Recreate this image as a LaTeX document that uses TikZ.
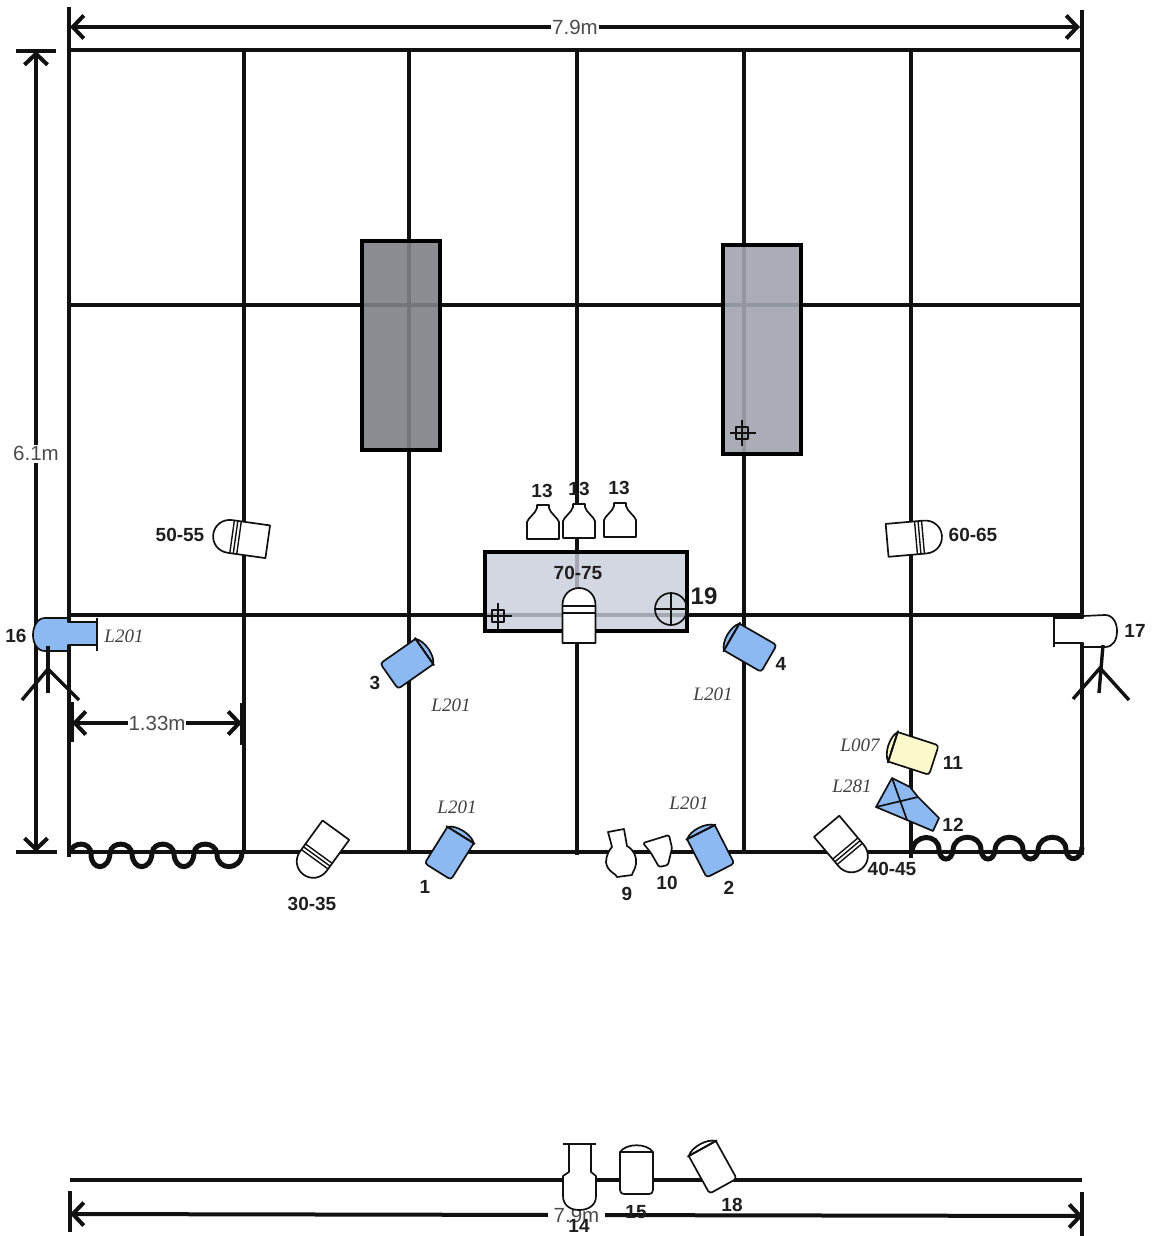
\documentclass[tikz,border=0pt]{standalone}
\usepackage{fontspec}
\setmainfont{Liberation Sans}
\newfontfamily\lblserif{Liberation Serif}
\usetikzlibrary{arrows.meta}
\definecolor{lampblue}{HTML}{8DB9F3}
\definecolor{lampyellow}{HTML}{FBF9CB}
\definecolor{greyA}{HTML}{808187}
\definecolor{greyB}{HTML}{A1A5AF}
\definecolor{greyC}{HTML}{C8CDDA}
\definecolor{inkdark}{HTML}{111111}
\tikzset{
  gridline/.style={line width=4pt,draw=inkdark},
  tickline/.style={line width=4pt,draw=inkdark},
  dimline/.style={line width=4pt,draw=inkdark,{Straight Barb[length=11pt,width=23pt]}-{Straight Barb[length=11pt,width=23pt]}},
  dimlabel/.style={fill=white,inner sep=2pt,font=\fontsize{20.5}{20.5}\selectfont,text=black!70},
  lampline/.style={line width=1.7pt,draw=inkdark,line join=round},
  numlabel/.style={font=\fontsize{19}{19}\selectfont\bfseries,text=black!88,inner sep=0pt},
  gellabel/.style={font=\fontsize{19}{19}\selectfont\lblserif\itshape,text=black!75,inner sep=0pt},
  standline/.style={line width=3.4pt,draw=inkdark},
  curtain/.style={line width=5pt,draw=inkdark},
  setblock/.style={line width=4pt,draw=black,fill opacity=.9,draw opacity=1},
}
% Fresnel-type lamp: centre x, centre y, rotation, fill
\newcommand{\fresnellamp}[4]{%
  \begin{scope}[shift={(#1,#2)},rotate=#3]
    \draw[lampline,fill=#4] (-15.5,-20) .. controls (-9,-26.5) and (9,-26.5) .. (15.5,-20) -- cycle;
    \draw[lampline,fill=#4] (-15.5,-20) -- (-15.5,20) .. controls (-15.5,22) and (-14,23) .. (-12,23) -- (12,23) .. controls (14,23) and (15.5,22) .. (15.5,20) -- (15.5,-20) -- cycle;
    \draw[lampline] (-17,-20) -- (17,-20);
  \end{scope}}
% Ellipsoidal-type lamp: centre x, centre y, rotation, stripes
\newcommand{\profilelamp}[4]{%
  \begin{scope}[shift={(#1,#2)},rotate=#3]
    \draw[lampline,fill=white] (-16.5,27) -- (-16.5,-11) .. controls (-16.5,-21) and (-9,-28) .. (0,-28) .. controls (9,-28) and (16.5,-21) .. (16.5,-11) -- (16.5,27) -- cycle;
    \foreach \s in {#4} {\draw[lampline,line width=1.4pt] (-16.5,\s) -- (16.5,\s);}
  \end{scope}}
% Small cyc unit
\newcommand{\cycunit}[2]{%
  \begin{scope}[shift={(#1,#2)}]
    \draw[lampline,fill=white] (-16,17) -- (16,17) -- (16,0) .. controls (15,-4) and (7,-9) .. (6,-14) -- (6,-17) -- (-6,-17) -- (-6,-14) .. controls (-7,-9) and (-15,-4) .. (-16,0) -- cycle;
  \end{scope}}
\newcommand{\crosshair}[2]{%
  \begin{scope}[shift={(#1,#2)}]
    \draw[lampline,line width=1.5pt] (-6,-6) rectangle (6,6);
    \draw[lampline,line width=1.5pt] (-12,0) -- (14,0) (0,-13) -- (0,13);
  \end{scope}}
\begin{document}
\begin{tikzpicture}[x=1pt,y=-1pt]
\useasboundingbox (0,0) rectangle (1153,1236);
\fill[white] (0,0) rectangle (1153,1236);

% grid
\draw[gridline] (70,50) -- (1082,50);
\draw[gridline] (70,305) -- (1082,305);
\draw[gridline] (70,615) -- (1082,615);
\draw[gridline] (70,852) -- (1082,852);
\draw[gridline] (244,50) -- (244,852);
\draw[gridline] (409,50) -- (409,852);
\draw[gridline] (577,50) -- (577,855);
\draw[gridline] (744,50) -- (744,852);
\draw[gridline] (911,50) -- (911,858);
\draw[gridline] (69,7) -- (69,857);
\draw[gridline] (1082,10) -- (1082,855);

% bottom bar
\draw[gridline] (70,1180) -- (1082,1180);

% dimensions
\coordinate (topL) at (70,27);
\coordinate (topR) at (1080,27);
\coordinate (leftT) at (36,51);
\coordinate (leftB) at (36,852);
\coordinate (spanL) at (72,723);
\coordinate (spanR) at (242,723);
\coordinate (botL) at (70,1214);
\coordinate (botR) at (1083,1216);
\draw[dimline] (topL) -- node[dimlabel,inner sep=1pt] (dimtop) {7.9m} (topR);
\draw[dimline] (leftT) -- node[dimlabel,pos=.503] (dimleft) {6.1m} (leftB);
\draw[dimline] (spanL) -- node[dimlabel,inner sep=1pt] (dimspan) {1.33m} (spanR);
\draw[dimline] (botL) -- node[dimlabel,inner sep=6pt] (dimbot) {7.9m} (botR);
\draw[tickline] (16,51) -- (56,51);
\draw[tickline] (16,852) -- (57,852);
\draw[tickline] (72,702) -- (72,742);
\draw[tickline] (242,703) -- (242,745);
\draw[tickline] (70,1191) -- (70,1232);
\draw[tickline] (1082,1192) -- (1082,1236);

% curtains
\draw[curtain] (70,853) .. controls (72,841) and (91,841) .. (91,854)
  .. controls (91,871) and (109,871) .. (110,853)
  .. controls (111,841) and (131,841) .. (132,854)
  .. controls (133,871) and (151,871) .. (152,853)
  .. controls (153,841) and (173,841) .. (174,854)
  .. controls (175,871) and (193,871) .. (194,853)
  .. controls (195,841) and (216,841) .. (217,854)
  .. controls (217,871) and (241,871) .. (242,853);
\draw[curtain] (912,852) .. controls (913,833) and (939,833) .. (939,850)
  .. controls (940,862) and (952,862) .. (953,850)
  .. controls (954,833) and (981,833) .. (981,850)
  .. controls (982,862) and (994,862) .. (995,850)
  .. controls (996,833) and (1023,833) .. (1023,850)
  .. controls (1024,862) and (1037,862) .. (1038,850)
  .. controls (1039,833) and (1066,833) .. (1066,850)
  .. controls (1067,862) and (1081,862) .. (1082,847);

% set blocks
\draw[setblock,fill=greyA] (362,241) rectangle (440,450);
\draw[setblock,fill=greyB] (723,245) rectangle (801,454);
\draw[setblock,fill=greyC,fill opacity=.8] (485,552) rectangle (687,631);
\crosshair{742}{433}
\crosshair{498}{616}
\draw[lampline] (671,609) circle (16);
\draw[lampline] (655,609) -- (687,609) (671,593) -- (671,625);

% cyc units
\cycunit{543}{522}
\cycunit{579}{521}
\cycunit{620}{520}

% profile lamps
\profilelamp{241}{538}{82}{-9,-5.5,-2}
\profilelamp{914}{538}{-85}{-9,-5.5,-2}
\profilelamp{579}{616}{0}{-10,-3}
\profilelamp{320}{852}{144}{-9,-5.5,-2}
\profilelamp{844}{847}{220}{-9,-5.5,-2}

% fresnels
\fresnellamp{450}{852}{-32}{lampblue}
\fresnellamp{710}{850}{27}{lampblue}
\fresnellamp{408}{663}{-55}{lampblue}
\fresnellamp{749}{647}{60}{lampblue}
\fresnellamp{912}{753}{72}{lampyellow}
\fresnellamp{712}{1166}{29}{white}

% barn-door lamp 12
\draw[lampline,fill=lampblue] (892,778) -- (910,787) -- (918,797) -- (939,818) -- (933,831) -- (907,820) -- (876,807) -- cycle;
\draw[lampline] (892,778) -- (907,820) (876,807) -- (918,797);

% lamps 9 and 10
\draw[lampline,fill=white] (608,832) -- (624,829) -- (627,846) .. controls (634,850) and (637,857) .. (636,864) .. controls (635,870) and (632,873) .. (632,875) -- (617,877) .. controls (617,874) and (607,872) .. (606,862) .. controls (606,855) and (610,849) .. (612,847) -- cycle;
\draw[lampline,fill=white,rounded corners=1.5pt] (643,843) -- (669,835) -- (672,848) -- (668,865) -- (659,867) -- (651,853) -- cycle;

% followspots 16 and 17
\draw[lampline,fill=lampblue] (68,618) -- (45,618) .. controls (37,618) and (33,627) .. (33,635) .. controls (33,643) and (37,651) .. (45,651) -- (68,651) -- (68,645) -- (97,645) -- (97,622) -- (68,622) -- cycle;
\draw[lampline] (97,618) -- (97,651);
\draw[standline] (48,646) -- (48,693);
\draw[standline] (22,700) -- (48,669) -- (79,700);

\draw[lampline,fill=white] (1083,616) -- (1105,615) .. controls (1113,615) and (1117,623) .. (1117,631) .. controls (1117,640) and (1113,647) .. (1105,647) -- (1083,647) -- (1083,643) -- (1054,643) -- (1054,618) -- (1083,618) -- cycle;
\draw[lampline] (1054,617) -- (1054,647);
\draw[standline] (1103,645) -- (1099,693);
\draw[standline] (1073,699) -- (1100,668) -- (1129,700);

% lower units 14, 15
\draw[lampline,fill=white] (569,1144) -- (569,1172) -- (563,1176) -- (563,1196) .. controls (563,1205) and (570,1210) .. (579,1210) .. controls (589,1210) and (596,1205) .. (596,1196) -- (596,1176) -- (591,1172) -- (591,1144) -- cycle;
\draw[lampline] (563,1144) -- (596,1144);
\draw[lampline,fill=white] (620,1152) -- (620,1190) .. controls (620,1193) and (622,1194) .. (624,1194) -- (649,1194) .. controls (651,1194) and (653,1193) .. (653,1190) -- (653,1152) -- cycle;
\draw[lampline] (620,1152) .. controls (626,1143) and (647,1143) .. (653,1152);

% labels
\node[numlabel] (n5055) at (180,535) {50-55};
\node[numlabel] (n6065) at (973,535) {60-65};
\node[numlabel] (n7075) at (578,573) {70-75};
\node[numlabel] (n13a) at (542,491) {13};
\node[numlabel] (n13b) at (579,489) {13};
\node[numlabel] (n13c) at (619,488) {13};
\node[numlabel,font=\fontsize{24}{24}\selectfont\bfseries] (n19) at (704,596) {19};
\node[numlabel] (n16) at (16,636) {16};
\node[numlabel] (n17) at (1135,631) {17};
\node[numlabel] (n3) at (375,683) {3};
\node[numlabel] (n4) at (781,664) {4};
\node[numlabel] (n11) at (953,763) {11};
\node[numlabel] (n12) at (953,825) {12};
\node[numlabel] (n1) at (425,887) {1};
\node[numlabel] (n2) at (729,888) {2};
\node[numlabel] (n9) at (627,894) {9};
\node[numlabel] (n10) at (667,883) {10};
\node[numlabel] (n4045) at (892,869) {40-45};
\node[numlabel] (n3035) at (312,904) {30-35};
\node[numlabel] (n14) at (579,1226) {14};
\node[numlabel] (n15) at (636,1212) {15};
\node[numlabel] (n18) at (732,1205) {18};
\node[gellabel] (g16) at (124,636) {L201};
\node[gellabel] (g3) at (451,705) {L201};
\node[gellabel] (g4) at (713,694) {L201};
\node[gellabel] (g1) at (457,807) {L201};
\node[gellabel] (g2) at (689,803) {L201};
\node[gellabel] (g11) at (860,745) {L007};
\node[gellabel] (g12) at (852,786) {L281};
\end{tikzpicture}
\end{document}
